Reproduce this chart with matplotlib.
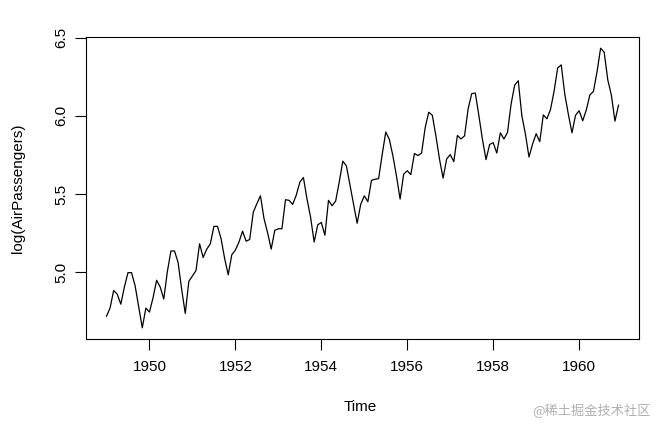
import numpy as np
import matplotlib
matplotlib.use("Agg")
import matplotlib.pyplot as plt

plt.rcParams['font.family'] = ['Liberation Sans', 'DejaVu Sans']

# monthly totals 1949-1960
years = list(range(1949, 1961))
passengers = [
    112, 118, 132, 129, 121, 135, 148, 148, 136, 119, 104, 118,
    115, 126, 141, 135, 125, 149, 170, 170, 158, 133, 114, 140,
    145, 150, 178, 163, 172, 178, 199, 199, 184, 162, 146, 166,
    171, 180, 193, 181, 183, 218, 230, 242, 209, 191, 172, 194,
    196, 196, 236, 235, 229, 243, 264, 272, 237, 211, 180, 201,
    204, 188, 235, 227, 234, 264, 302, 293, 259, 229, 203, 229,
    242, 233, 267, 269, 270, 315, 364, 347, 312, 274, 237, 278,
    284, 277, 317, 313, 318, 374, 413, 405, 355, 306, 271, 306,
    315, 301, 356, 348, 355, 422, 465, 467, 404, 347, 305, 336,
    340, 318, 362, 348, 363, 435, 491, 505, 404, 359, 310, 337,
    360, 342, 406, 396, 420, 472, 548, 559, 463, 407, 362, 405,
    417, 391, 419, 461, 472, 535, 622, 606, 508, 461, 390, 432,
]
xticks = [1950, 1952, 1954, 1956, 1958, 1960]
yticks = [5.0, 5.5, 6.0, 6.5]

t = np.array([y + m / 12 for y in years for m in range(12)])
lp = np.log(passengers)

W, H = 657, 426
fig = plt.figure(figsize=(W / 100, H / 100), dpi=100)
ax = fig.add_axes([86 / W, (H - 339) / H, (639 - 86) / W, (339 - 37) / H])
ax.plot(t, lp, color='black', lw=0.9)

xr = t.max() - t.min()
ax.set_xlim(t.min() - 0.04 * xr, t.max() + 0.04 * xr)
yr = lp.max() - lp.min()
ax.set_ylim(lp.min() - 0.04 * yr, lp.max() + 0.04 * yr)

ax.set_xticks(xticks)
ax.set_xticklabels([str(x) for x in xticks])
ax.set_yticks(yticks)
ax.set_yticklabels([f"{v:.1f}" for v in yticks], rotation=90, va='center')
ax.tick_params(direction='out', length=8, width=0.8, labelsize=11, pad=7, colors='black')
ax.tick_params(axis='y', pad=5)
for s in ax.spines.values():
    s.set_linewidth(0.8)

fig.text(360 / W, 1 - 407 / H, 'Time', ha='center', va='center', fontsize=11)
fig.text(18 / W, 1 - 188 / H, 'log(AirPassengers)', ha='center', va='center',
         rotation=90, fontsize=11)
fig.text(651 / W, 1 - 411 / H, '@稀土掘金技术社区', ha='right', va='center',
         fontsize=9.5, color='#b0b0b0', family=['Noto Sans CJK SC', 'DejaVu Sans'])

fig.savefig('out.png', dpi=100)
